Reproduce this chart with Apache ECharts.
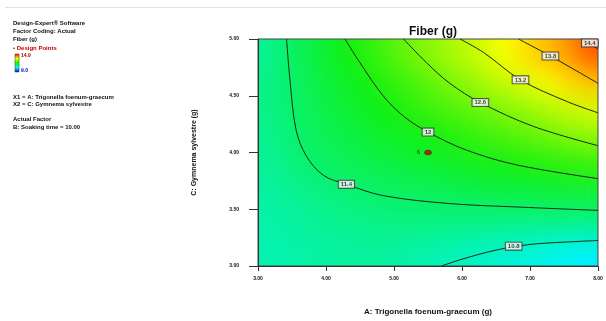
<!DOCTYPE html>
<html><head><meta charset="utf-8">
<script src="https://cdn.jsdelivr.net/npm/echarts@6/dist/echarts.min.js"></script>
<style>
html,body{margin:0;padding:0;background:#fff}
#wrap{position:relative;width:606px;height:321px;background:#fff}
#bgclip{position:absolute;left:258px;top:39px;width:340px;height:228px;overflow:hidden}
#bg{width:340px;height:228px;filter:url(#smooth)}
#c{position:absolute;left:0;top:0;width:606px;height:321px}
</style>
</head><body>
<svg width="0" height="0" style="position:absolute">
  <filter id="smooth" x="-20%" y="-20%" width="140%" height="140%" color-interpolation-filters="sRGB">
    <feGaussianBlur stdDeviation="8 13"/>
    <feComponentTransfer><feFuncA type="table" tableValues="1 1"/></feComponentTransfer>
  </filter>
</svg>
<div id="wrap"><div id="bgclip"><div id="bg"></div></div><div id="c"></div></div>
<script>
// ---- data ----
const title = 'Fiber (g)';
const xName = 'A: Trigonella foenum-graecum (g)';
const yName = 'C: Gymnema sylvestre (g)';
const xMin = 3, xMax = 8, yMin = 3, yMax = 5;
// cell centres of the response grid
const xCenters = [3.125,3.375,3.625,3.875,4.125,4.375,4.625,4.875,5.125,5.375,5.625,5.875,6.125,6.375,6.625,6.875,7.125,7.375,7.625,7.875];
const yCenters = [3.125,3.375,3.625,3.875,4.125,4.375,4.625,4.875];
// estimated Fiber (g) per cell, rows bottom (y=3.125) to top (y=4.875)
const row1 = [10.95,10.98,11.01,11.04,11.06,11.07,11.07,11.06,11.03,10.99,10.94,10.89,10.84,10.79,10.74,10.69,10.64,10.58,10.52,10.45];
const row2 = [11.00,11.04,11.08,11.12,11.15,11.18,11.20,11.22,11.23,11.23,11.23,11.22,11.21,11.20,11.19,11.18,11.17,11.16,11.15,11.14];
const row3 = [11.05,11.10,11.15,11.20,11.26,11.31,11.36,11.41,11.43,11.45,11.47,11.49,11.52,11.54,11.56,11.58,11.60,11.63,11.65,11.67];
const row4 = [11.10,11.20,11.31,11.40,11.45,11.50,11.54,11.59,11.64,11.68,11.73,11.78,11.82,11.87,11.92,11.96,12.01,12.05,12.09,12.13];
const row5 = [11.15,11.28,11.40,11.48,11.55,11.62,11.69,11.76,11.83,11.90,11.98,12.05,12.13,12.21,12.29,12.37,12.44,12.52,12.60,12.67];
const row6 = [11.20,11.33,11.44,11.54,11.64,11.74,11.83,11.93,12.03,12.14,12.24,12.34,12.44,12.54,12.65,12.75,12.86,12.98,13.08,13.19];
const row7 = [11.20,11.33,11.47,11.60,11.72,11.84,11.97,12.10,12.23,12.37,12.50,12.64,12.78,12.93,13.07,13.21,13.35,13.48,13.62,13.75];
const row8 = [11.15,11.35,11.52,11.67,11.82,11.98,12.14,12.30,12.46,12.62,12.77,12.92,13.07,13.23,13.40,13.57,13.73,13.91,14.10,14.40];
const gridRows = [row1,row2,row3,row4,row5,row6,row7,row8];
const colorMin = 9.0, colorMax = 14.9;
// contour lines (x, y) and their levels
const contourLevels = ['10.8','11.4','12','12.6','13.2','13.8','14.4'];
const contourA = [[5.70,3.00],[6.00,3.06],[6.50,3.14],[7.00,3.19],[7.50,3.21],[8.00,3.225]];
const contourB = [[3.42,5.00],[3.47,4.64],[3.56,4.20],[3.71,3.97],[3.96,3.80],[4.30,3.72],[4.84,3.62],[5.82,3.55],[6.81,3.52],[8.00,3.49]];
const contourC = [[4.28,5.00],[4.50,4.79],[4.84,4.50],[5.14,4.32],[5.50,4.18],[6.07,4.02],[6.81,3.89],[8.00,3.77]];
const contourD = [[5.14,5.00],[5.48,4.79],[5.82,4.61],[6.27,4.44],[7.05,4.23],[8.00,4.06]];
const contourE = [[5.97,5.00],[6.32,4.88],[6.86,4.64],[7.54,4.45],[8.00,4.35]];
const contourF = [[6.83,5.00],[7.30,4.85],[8.00,4.61]];
const contourG = [[7.75,5.00],[7.90,4.95],[8.00,4.91]];
const contours = [contourA,contourB,contourC,contourD,contourE,contourF,contourG];
const labelPos = [[6.76,3.175],[4.30,3.72],[5.50,4.18],[6.27,4.44],[6.86,4.64],[7.30,4.85],[7.88,4.965]];
const designPoints = [[5.5,4.0,'6']];
const legendLines = ['Design-Expert\u00ae Software','Factor Coding: Actual','Fiber (g)'];
const legendFactors = ['X1 = A: Trigonella foenum-graecum','X2 = C: Gymnema sylvestre'];
const actualFactor = ['Actual Factor','B: Soaking time = 10.00'];
const colorBarTop = '14.9', colorBarBottom = '9.0';

// ---- chart ----
const FONT = 'Liberation Sans, Arial, sans-serif';
const rampColors = ['#0000ff', '#00f4ff', '#10f010', '#ffff00', '#ff0000'];
const heat = [];
gridRows.forEach((r, j) => r.forEach((v, i) => heat.push([i, j, v])));

// background: response-surface shading (heatmap)
const bg = echarts.init(document.getElementById('bg'), null, {renderer: 'canvas'});
bg.setOption({
  animation: false,
  grid: {left: 0, right: 0, top: 0, bottom: 0},
  visualMap: {show: false, type: 'continuous', min: colorMin, max: colorMax, inRange: {color: rampColors}},
  xAxis: {type: 'category', data: xCenters.map(String), show: false},
  yAxis: {type: 'category', data: yCenters.map(String), show: false},
  series: [{type: 'heatmap', data: heat, itemStyle: {borderWidth: 0}, emphasis: {disabled: true}}]
});

// foreground: axes, contour lines, labels, legend text
const lineColor = '#172a17';
const series = [];
contours.forEach(c => series.push({
  type: 'line', data: c, smooth: 0.35, showSymbol: false,
  lineStyle: {color: lineColor, width: 1}, z: 5, silent: true
}));
series.push({
  type: 'scatter', z: 6, symbolSize: 0,
  data: labelPos.map((p, i) => ({value: p, name: contourLevels[i]})),
  label: {show: true, position: 'inside', formatter: p => p.name, fontSize: 6, fontWeight: 'bold',
    fontFamily: FONT, color: '#111', backgroundColor: '#fff', borderColor: '#333', borderWidth: 1,
    padding: [1, 2, 0, 2]}
});
series.push({
  type: 'scatter', z: 7, symbol: 'circle', symbolSize: [7, 5],
  itemStyle: {color: '#c00000', borderColor: '#600', borderWidth: 0.5},
  data: designPoints.map(d => ({value: [d[0], d[1]], name: d[2]})),
  label: {show: true, position: 'left', distance: 4, formatter: p => p.name, fontSize: 6, color: '#222', fontFamily: FONT}
});

const graphics = [
  {type: 'line', shape: {x1: 5, y1: 7.5, x2: 606, y2: 7.5}, style: {stroke: '#e0e0e0', lineWidth: 1}}
];
legendLines.forEach((t, i) => graphics.push({type: 'text', left: 13, top: 20 + i * 8,
  style: {text: t, font: 'bold 6px ' + FONT, fill: '#111'}}));
graphics.push({type: 'text', left: 13, top: 45, style: {text: '\u2022 Design Points', font: 'bold 6px ' + FONT, fill: '#c00000'}});
graphics.push({type: 'rect', shape: {x: 15, y: 54, width: 4, height: 18},
  style: {fill: new echarts.graphic.LinearGradient(0, 0, 0, 1, [
    {offset: 0, color: '#ff0000'}, {offset: 0.25, color: '#ffff00'}, {offset: 0.5, color: '#00ff00'},
    {offset: 0.75, color: '#00ffff'}, {offset: 1, color: '#0000ff'}]), stroke: '#333', lineWidth: 0.5}});
graphics.push({type: 'text', left: 21, top: 53, style: {text: colorBarTop, font: 'bold 5px ' + FONT, fill: '#900'}});
graphics.push({type: 'text', left: 21, top: 68, style: {text: colorBarBottom, font: 'bold 5px ' + FONT, fill: '#009'}});
legendFactors.forEach((t, i) => graphics.push({type: 'text', left: 13, top: 94 + i * 7,
  style: {text: t, font: 'bold 6px ' + FONT, fill: '#111'}}));
actualFactor.forEach((t, i) => graphics.push({type: 'text', left: 13, top: 116 + i * 8,
  style: {text: t, font: 'bold 6px ' + FONT, fill: '#111'}}));

const chart = echarts.init(document.getElementById('c'), null, {renderer: 'canvas'});
chart.setOption({
  animation: false,
  backgroundColor: 'transparent',
  title: {text: title, left: 428, top: 21, textAlign: 'center',
    textStyle: {fontSize: 12, fontWeight: 'bold', fontFamily: FONT, color: '#111'}},
  grid: {left: 258, top: 39, right: 8, bottom: 54, show: true, borderColor: '#444', borderWidth: 1, backgroundColor: 'transparent'},
  xAxis: {type: 'value', min: xMin, max: xMax, interval: 1,
     name: xName, nameLocation: 'middle', nameGap: 42,
     nameTextStyle: {fontSize: 8, fontWeight: 'bold', fontFamily: FONT, color: '#111'},
     axisLine: {lineStyle: {color: '#333'}}, axisTick: {show: true, length: 5, lineStyle: {color: '#333'}},
     axisLabel: {formatter: v => v.toFixed(2), fontSize: 5, fontWeight: 'bold', fontFamily: FONT, color: '#111', margin: 10},
     splitLine: {show: false}},
  yAxis: {type: 'value', min: yMin, max: yMax, interval: 0.5,
     name: yName, nameLocation: 'middle', nameGap: 60, nameRotate: 90,
     nameTextStyle: {fontSize: 7, fontWeight: 'bold', fontFamily: FONT, color: '#111'},
     axisLine: {lineStyle: {color: '#333'}}, axisTick: {show: true, length: 9, lineStyle: {color: '#333'}},
     axisLabel: {formatter: v => v.toFixed(2), fontSize: 5, fontWeight: 'bold', fontFamily: FONT, color: '#111', margin: 19},
     splitLine: {show: false}},
  series: series,
  graphic: graphics
});
</script></body></html>
